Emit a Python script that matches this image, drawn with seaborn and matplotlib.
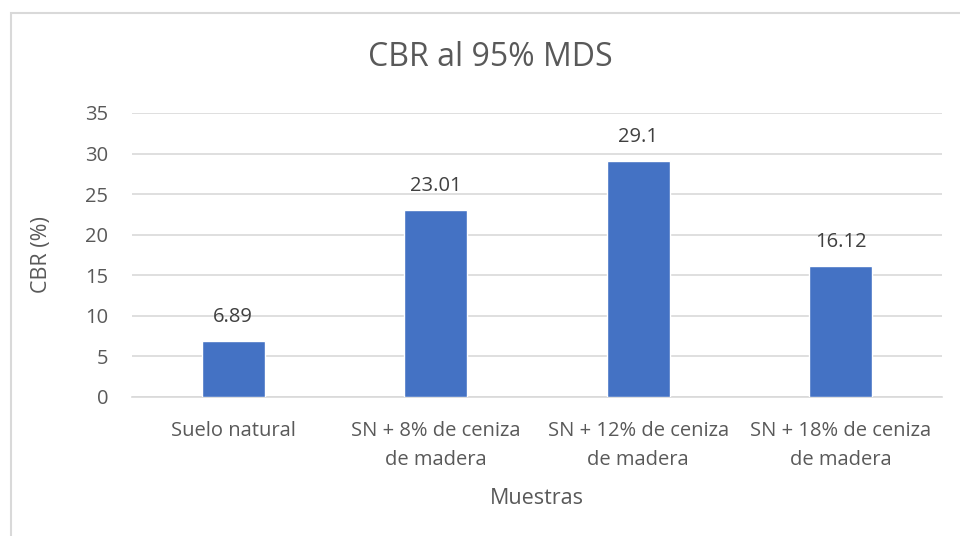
import matplotlib
matplotlib.use("Agg")
import matplotlib.pyplot as plt
import seaborn as sns
import pandas as pd
from matplotlib.patches import Rectangle

categories = ["Suelo natural", "SN + 8% de ceniza\nde madera",
              "SN + 12% de ceniza\nde madera", "SN + 18% de ceniza\nde madera"]
values = [6.89, 23.01, 29.1, 16.12]
value_labels = ["6.89", "23.01", "29.1", "16.12"]
yticks = [0, 5, 10, 15, 20, 25, 30, 35]

sns.set_theme(style="white")
plt.rcParams['font.family'] = ['Open Sans', 'DejaVu Sans']

txt = "#595959"
fig = plt.figure(figsize=(9.6, 5.36), dpi=100)
ax = fig.add_axes([132/960, 1-397/536, (942-132)/960, (397-113)/536])

df = pd.DataFrame({"cat": categories, "val": values})
sns.barplot(data=df, x="cat", y="val", color="#4472C4", saturation=1, width=0.31, ax=ax, zorder=3)

ax.set_ylim(0, 35)
ax.set_yticks(yticks)
ax.set_xlim(-0.5, 3.5)
ax.yaxis.grid(True, color="#d9d9d9", linewidth=1.2, zorder=0)
ax.set_axisbelow(True)
for s in ["top", "right", "left"]:
    ax.spines[s].set_visible(False)
ax.spines["bottom"].set_color("#d9d9d9")
ax.spines["bottom"].set_linewidth(1.2)
ax.tick_params(axis="both", length=0, labelsize=14.5, labelcolor=txt)
ax.tick_params(axis="y", pad=17)
ax.tick_params(axis="x", pad=17)
for lab in ax.get_xticklabels():
    lab.set_linespacing(1.62)

for i, (v, l) in enumerate(zip(values, value_labels)):
    ax.annotate(l, (i, v), xytext=(0, 10), textcoords="offset points",
                ha="center", va="bottom", fontsize=14.5, color="#404040")

ax.set_xlabel("Muestras", fontsize=15.5, color=txt, labelpad=13)
ax.set_ylabel("CBR (%)", fontsize=15.5, color=txt, labelpad=24)

fig.text(490/960, 1-57/536, "CBR al 95% MDS", ha="center", va="center", fontsize=23, color=txt)

fig.patches.append(Rectangle((11/960, -0.1), 2, (536-13)/536 + 0.1, transform=fig.transFigure,
                             fill=False, edgecolor="#d9d9d9", linewidth=1.5, figure=fig))

fig.savefig("out.png", dpi=100, facecolor="white")
